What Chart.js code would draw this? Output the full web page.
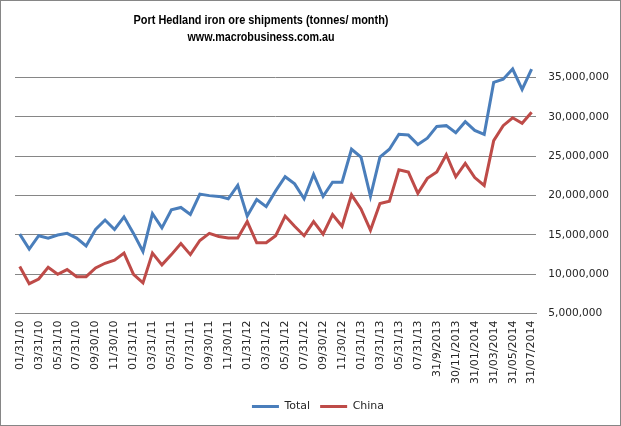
<!DOCTYPE html>
<html><head><meta charset="utf-8">
<script src="https://cdn.jsdelivr.net/npm/chart.js@4.4.1/dist/chart.umd.min.js"></script>
<style>html,body{margin:0;padding:0;background:#fff}#wrap{width:621px;height:426px;position:relative}</style>
</head><body><div id="wrap"><canvas id="c" width="621" height="426"></canvas></div>
<script>
const categories = [
 '01/31/10','02/28/10','03/31/10','04/30/10','05/31/10','06/30/10','07/31/10','08/31/10','09/30/10','10/31/10','11/30/10','12/31/10',
 '01/31/11','02/28/11','03/31/11','04/30/11','05/31/11','06/30/11','07/31/11','08/31/11','09/30/11','10/31/11','11/30/11','12/31/11',
 '01/31/12','02/29/12','03/31/12','04/30/12','05/31/12','06/30/12','07/31/12','08/31/12','09/30/12','10/31/12','11/30/12','12/31/12',
 '01/31/13','02/28/13','03/31/13','04/30/13','05/31/13','06/30/13','07/31/13','08/31/13','31/9/2013','31/10/2013','30/11/2013','31/12/2013',
 '31/01/2014','28/02/2014','31/03/2014','30/04/2014','31/05/2014','30/06/2014','31/07/2014'
];
const totalValues = [
 15100000,13200000,14900000,14600000,15000000,15200000,14600000,13600000,15700000,16900000,
 15700000,17300000,15200000,12900000,17700000,15900000,18200000,18500000,17600000,20200000,
 20000000,19900000,19600000,21300000,17400000,19500000,18600000,20600000,22400000,21500000,
 19600000,22700000,19900000,21700000,21700000,25900000,24900000,19900000,24900000,25900000,
 27800000,27700000,26500000,27300000,28800000,28900000,28000000,29400000,28300000,27800000,
 34400000,34800000,36100000,33500000,36100000
];
const chinaValues = [
 11000000,8800000,9400000,10900000,10000000,10600000,9700000,9700000,10800000,11400000,
 11800000,12700000,10000000,8900000,12700000,11200000,12500000,13900000,12500000,14300000,
 15200000,14800000,14600000,14600000,16700000,14000000,14000000,14900000,17400000,16100000,
 14900000,16700000,15100000,17600000,16100000,20100000,18300000,15600000,19000000,19300000,
 23300000,23000000,20300000,22200000,23000000,25200000,22400000,24100000,22300000,21300000,
 27000000,28900000,29900000,29200000,30600000
];
const yTickValues = [5000000,10000000,15000000,20000000,25000000,30000000,35000000];
const titleLines = ['Port Hedland iron ore shipments (tonnes/ month)','www.macrobusiness.com.au'];

const TXT = '#262626';
const GRID = '#868686';
const tickFont = {family:'"DejaVu Sans", sans-serif', size:11};
const yFont = {family:'"DejaVu Sans", sans-serif', size:10.6};

const deco = {
  id:'deco',
  afterDraw(chart){
    const ctx = chart.ctx;
    ctx.save();
    ctx.strokeStyle = GRID; ctx.lineWidth = 1;
    ctx.strokeRect(0.5,0.5,620,425);
    ctx.fillStyle = '#000';
    ctx.font = 'bold 13px "Liberation Sans", sans-serif';
    ctx.textAlign = 'center'; ctx.textBaseline = 'middle';
    const targets = [255, 147];
    const ys = [20, 37];
    titleLines.forEach((t,i)=>{
      const w = ctx.measureText(t).width;
      const s = Math.min(1, targets[i]/w);
      ctx.save();
      ctx.translate(261, ys[i]);
      ctx.scale(s, 1);
      ctx.fillText(t, 0, 0);
      ctx.restore();
    });
    ctx.restore();
  }
};

new Chart(document.getElementById('c'), {
  type:'line',
  data:{
    labels: categories,
    datasets:[
      {label:'Total', data: totalValues, borderColor:'#4A7EBB', backgroundColor:'#4A7EBB', borderWidth:3, pointRadius:0, tension:0},
      {label:'China', data: chinaValues, borderColor:'#BE4B48', backgroundColor:'#BE4B48', borderWidth:3, pointRadius:0, tension:0}
    ]
  },
  options:{
    responsive:false, animation:false, devicePixelRatio:1,
    layout:{padding:{left:15, right:0, top:58, bottom:4}},
    plugins:{
      title:{display:false}, tooltip:{enabled:false},
      legend:{
        position:'bottom',
        labels:{
          boxWidth:27, boxHeight:3, padding:10, color:TXT, font:tickFont,
          generateLabels(chart){
            return chart.data.datasets.map((d,i)=>({text:d.label, fillStyle:d.borderColor, strokeStyle:d.borderColor, lineWidth:0, fontColor:TXT, datasetIndex:i, hidden:false}));
          }
        }
      }
    },
    scales:{
      x:{
        offset:true,
        grid:{display:false, drawTicks:false},
        border:{display:true, color:GRID, width:1},
        ticks:{autoSkip:false, minRotation:90, maxRotation:90, padding:7, color:TXT, font:tickFont,
          callback:(v,i)=> i%2===0 ? categories[i] : ''}
      },
      y:{
        position:'right', min:5000000, max:37500000,
        afterBuildTicks:(s)=>{ s.ticks = yTickValues.map(v=>({value:v})); },
        grid:{color:GRID, lineWidth:1, drawTicks:false},
        border:{display:false},
        ticks:{padding:12, color:TXT, font:yFont, callback:(v)=> Number(v).toLocaleString('en-US')}
      }
    }
  },
  plugins:[deco]
});
</script></body></html>
